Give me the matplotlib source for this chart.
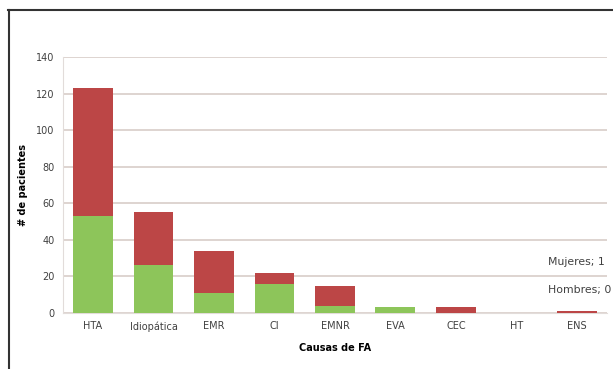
import matplotlib.pyplot as plt
from matplotlib.lines import Line2D
import numpy as np

# Causas de FA, hombres (verde) y mujeres (rojo)
causas = ["HTA", "Idiopática", "EMR", "CI", "EMNR", "EVA", "CEC", "HT", "ENS"]
hombres = [53, 26, 11, 16, 4, 3, 0, 0, 0]
mujeres = [70, 29, 23, 6, 11, 0, 3, 0, 1]
y_ticks = [0, 20, 40, 60, 80, 100, 120, 140]

verde = "#8dc55a"
rojo = "#bc4646"
grid_col = "#d8cdc8"

fig = plt.figure(figsize=(6.13, 3.69), dpi=100)
ax = fig.add_axes([0.1024, 0.1518, 0.888, 0.6938])

x = np.arange(len(causas))
ax.bar(x, hombres, width=0.66, color=verde, zorder=3)
ax.bar(x, mujeres, width=0.66, bottom=hombres, color=rojo, zorder=3)

ax.set_xlim(-0.5, len(causas) - 0.5)
ax.set_ylim(0, 140)
ax.set_yticks(y_ticks)
ax.yaxis.grid(True, color=grid_col, linewidth=1.2, zorder=0)
ax.tick_params(length=0, labelsize=7, colors="#404040", pad=6)
ax.set_xticks(x)
ax.set_xticklabels(causas)
for s in ["top", "right"]:
    ax.spines[s].set_visible(False)
ax.spines["left"].set_color("#e2dcda")
ax.spines["bottom"].set_color("#e2dcda")

ax.set_ylabel("# de pacientes", fontsize=7, fontweight="bold", labelpad=6)
ax.set_xlabel("Causas de FA", fontsize=7, fontweight="bold", labelpad=8)

# etiquetas de datos de la última categoría (cortadas por el borde)
last = len(causas) - 1
ax.text(last - 0.48, 28, f"Mujeres; {mujeres[last]}", fontsize=7.8, color="#404040",
        va="center", ha="left", clip_on=False)
ax.text(last - 0.48, 12.5, f"Hombres; {hombres[last]}", fontsize=7.8, color="#404040",
        va="center", ha="left", clip_on=False)

# marco
fig.add_artist(Line2D([8 / 613, 1], [0.973, 0.973], color="#333333", linewidth=1.5))
fig.add_artist(Line2D([9 / 613, 9 / 613], [0, 0.973], color="#333333", linewidth=1.5))

fig.savefig("out.png", dpi=100)
